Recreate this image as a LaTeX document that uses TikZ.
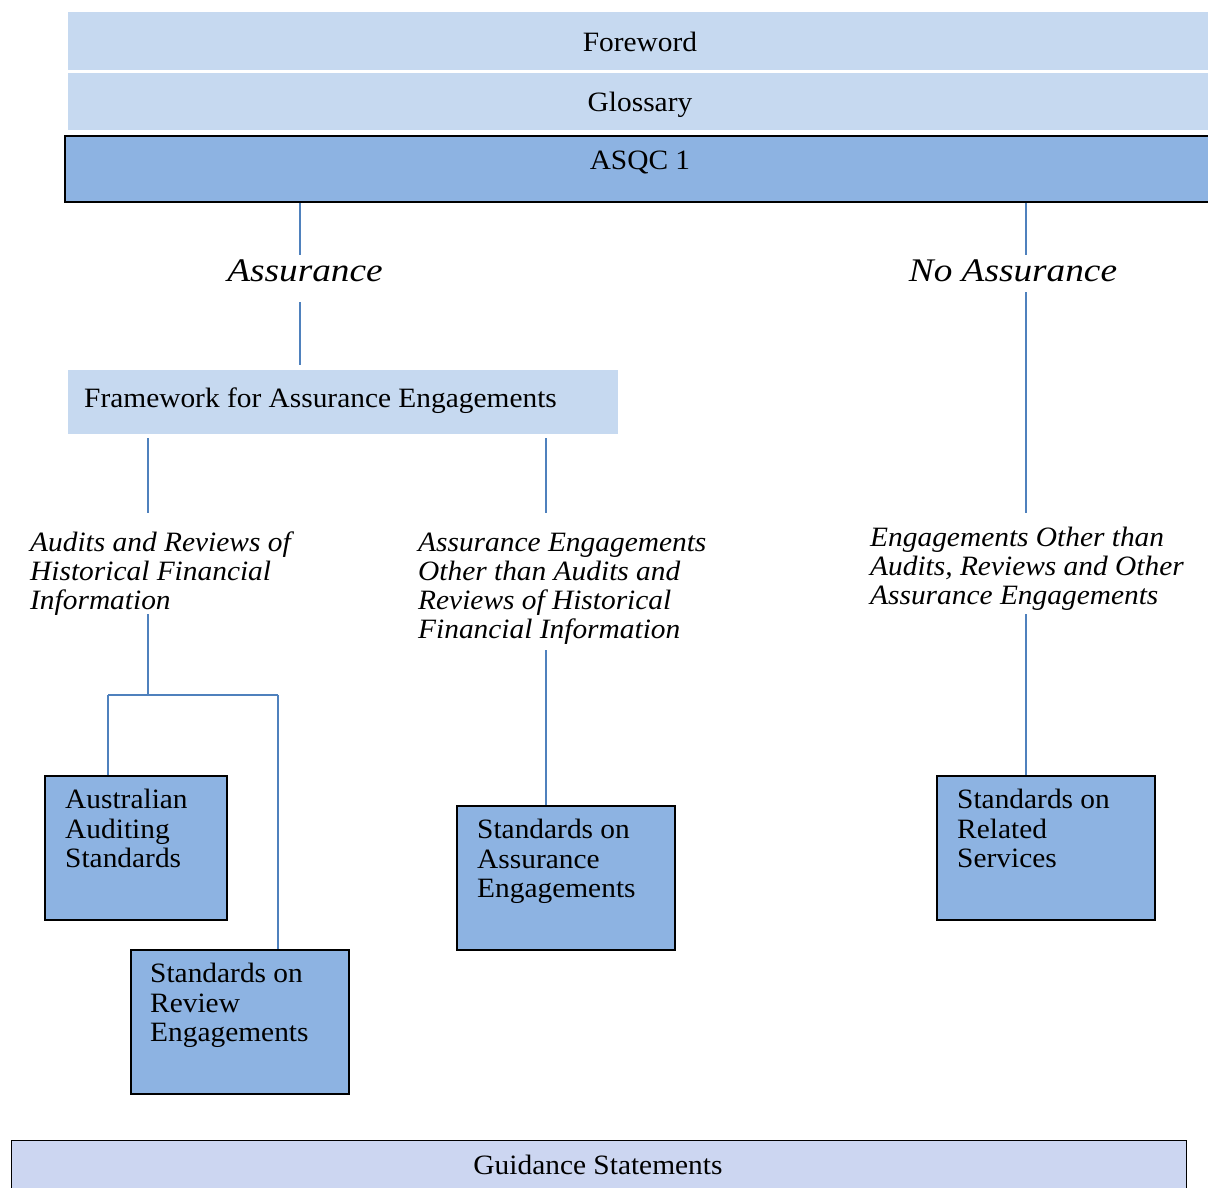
\documentclass[tikz,border=0pt]{standalone}
\usepackage{fontspec}
\setmainfont{Liberation Serif}[FakeStretch=1.05]
\newfontfamily\bigfam{Liberation Serif}[FakeStretch=1.13]
\definecolor{lightblue}{RGB}{198,217,240}
\definecolor{medblue}{RGB}{141,179,226}
\definecolor{linkblue}{RGB}{79,129,189}
\definecolor{pastel}{RGB}{204,214,241}
\begin{document}
\begin{tikzpicture}[x=1pt,y=-1pt,
  lightbar/.style={fill=lightblue, draw=none, inner sep=0pt, anchor=north west},
  medbox/.style={fill=medblue, draw=black, line width=2pt, inner sep=0pt, anchor=north west},
  conn/.style={draw=linkblue, line width=1.8pt},
  txt/.style={font=\fontsize{28}{29.5}\selectfont, inner sep=0pt, anchor=base},
  btxt/.style={font=\fontsize{28}{29.5}\selectfont, align=left, inner sep=0pt, anchor=base west},
  lbl/.style={font=\fontsize{28}{29}\selectfont\itshape, align=left, inner sep=0pt, anchor=base west},
  biglbl/.style={font=\bigfam\fontsize{33}{36}\selectfont\itshape, inner sep=0pt, anchor=base}]
\useasboundingbox (0,0) rectangle (1208,1187);

% top bars
\node[lightbar, minimum width=1160, minimum height=58] (fore) at (68,12) {};
\node[txt] (foreT) at (640,51) {Foreword};
\node[lightbar, minimum width=1160, minimum height=57] (glos) at (68,73) {};
\node[txt] (glosT) at (640,111) {Glossary};
\node[medbox, minimum width=1170, minimum height=66] (asqc) at (64,135) {};
\node[txt] (asqcT) at (640,169) {ASQC 1};

% branch labels
\node[biglbl] (assur) at (305,281.5) {Assurance};
\node[biglbl] (noassur) at (1013,281.5) {No Assurance};

% framework
\node[lightbar, minimum width=550, minimum height=64] (fw) at (68,370) {};
\node[btxt] (fwT) at (84,407) {Framework for Assurance Engagements};

% italic category labels (base = last line)
\node[lbl] (ahfi) at (30,609.5) {Audits and Reviews of\\Historical Financial\\Information};
\node[lbl] (aeo) at (418,638.5) {Assurance Engagements\\Other than Audits and\\Reviews of Historical\\Financial Information};
\node[lbl] (eoa) at (870,604.5) {Engagements Other than\\Audits, Reviews and Other\\Assurance Engagements};

% standard boxes
\node[medbox, minimum width=182, minimum height=144] (aas) at (44,775) {};
\node[btxt] (aasT) at ([shift={(21,92.5)}]aas.north west) {Australian\\Auditing\\Standards};
\node[medbox, minimum width=218, minimum height=144] (sre) at (130,949) {};
\node[btxt] (sreT) at ([shift={(20,92.5)}]sre.north west) {Standards on\\Review\\Engagements};
\node[medbox, minimum width=218, minimum height=144] (sae) at (456,805) {};
\node[btxt] (saeT) at ([shift={(21,92.5)}]sae.north west) {Standards on\\Assurance\\Engagements};
\node[medbox, minimum width=218, minimum height=144] (srs) at (936,775) {};
\node[btxt] (srsT) at ([shift={(21,92.5)}]srs.north west) {Standards on\\Related\\Services};

% guidance bar
\node[fill=pastel, draw=black, line width=1.3pt, inner sep=0pt, anchor=north west,
      minimum width=1175, minimum height=60] (guid) at (11,1140) {};
\node[txt] (guidT) at (598,1174) {Guidance Statements};

% connector coordinates
\coordinate (xa) at (300,0);
\coordinate (xn) at (1026,0);
\coordinate (xl) at (148,0);
\coordinate (xm) at (546,0);
\coordinate (xaas) at (108,0);
\coordinate (xsre) at (278,0);
\coordinate (ya1) at (0,255);
\coordinate (ya2) at (0,302);
\coordinate (yn2) at (0,292);
\coordinate (yfw) at (0,365);
\coordinate (yfwb) at (0,438);
\coordinate (ylab) at (0,513);
\coordinate (ylabb) at (0,614);
\coordinate (yaeob) at (0,650);
\coordinate (yj) at (0,695);

% connectors
\draw[conn] (asqc.south -| xa) -- (ya1 -| xa);
\draw[conn] (ya2 -| xa) -- (yfw -| xa);
\draw[conn] (asqc.south -| xn) -- (ya1 -| xn);
\draw[conn] (yn2 -| xn) -- (ylab -| xn);
\draw[conn] (yfwb -| xl) -- (ylab -| xl);
\draw[conn] (yfwb -| xm) -- (ylab -| xm);
\draw[conn] (ylabb -| xl) -- (yj -| xl);
\draw[conn] (yj -| xaas) -- (yj -| xsre);
\draw[conn] (yj -| xaas) -- (aas.north -| xaas);
\draw[conn] (yj -| xsre) -- (sre.north -| xsre);
\draw[conn] (yaeob -| xm) -- (sae.north -| xm);
\draw[conn] (ylabb -| xn) -- (srs.north -| xn);
\end{tikzpicture}
\end{document}
